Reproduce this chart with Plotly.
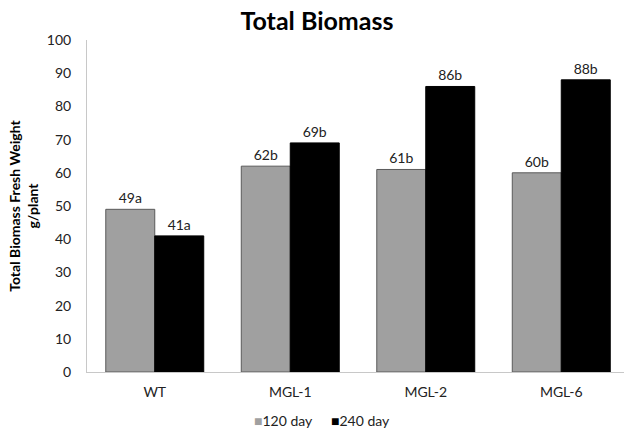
import plotly.graph_objects as go

categories = ["WT", "MGL-1", "MGL-2", "MGL-6"]
day120 = [49, 62, 61, 60]
day240 = [41, 69, 86, 88]
letters120 = ["a", "b", "b", "b"]
letters240 = ["a", "b", "b", "b"]
series_names = ["120 day", "240 day"]
series_colors = ["#A0A0A0", "#000000"]
outline_colors = ["#5a5a5a", "#000000"]
legend_x = [0.307, 0.451]

FONT = "Lato, 'Open Sans', sans-serif"

fig = go.Figure()
for name, vals, letters, col, edge in zip(series_names, [day120, day240],
                                          [letters120, letters240],
                                          series_colors, outline_colors):
    fig.add_trace(go.Bar(
        x=categories, y=vals, name=name,
        marker=dict(color=col, line=dict(color=edge, width=1)),
        text=[f"{v}{l}" for v, l in zip(vals, letters)],
        textposition="outside", cliponaxis=False,
        textfont=dict(size=14, color="#222"),
    ))

# compact legend entries: coloured square glyph followed by the series name
for name, col, lx in zip(series_names, series_colors, legend_x):
    fig.add_annotation(text=f"<span style='color:{col}'>■</span>{name}",
                       xref="paper", yref="paper", x=lx, y=-0.145,
                       xanchor="left", yanchor="middle", showarrow=False,
                       font=dict(size=14, color="#222"))

fig.update_layout(
    width=624, height=433,
    margin=dict(l=87, r=0, t=40, b=61),
    paper_bgcolor="white", plot_bgcolor="white",
    font=dict(family=FONT, size=14, color="#222"),
    barmode="group", bargap=0.277, bargroupgap=0,
    title=dict(text="<b>Total Biomass</b>", x=0.508, xanchor="center",
               y=0.952, yanchor="middle", font=dict(size=25, color="#000")),
    showlegend=False,
    xaxis=dict(range=[-0.5, 3.463], showline=True, linecolor="#c8c8c8", linewidth=1,
               ticks="", showgrid=False, ticklabelstandoff=7,
               tickfont=dict(size=14, color="#222")),
    yaxis=dict(range=[0, 100], dtick=10, showline=True, linecolor="#c8c8c8", linewidth=1,
               ticks="", showgrid=False, zeroline=False, ticklabelstandoff=12,
               tickfont=dict(size=14, color="#222"),
               title=dict(text="<b>Total Biomass Fresh Weight<br>g/plant</b>",
                          font=dict(size=14, color="#000"), standoff=4)),
)

fig.write_html("out.html")
